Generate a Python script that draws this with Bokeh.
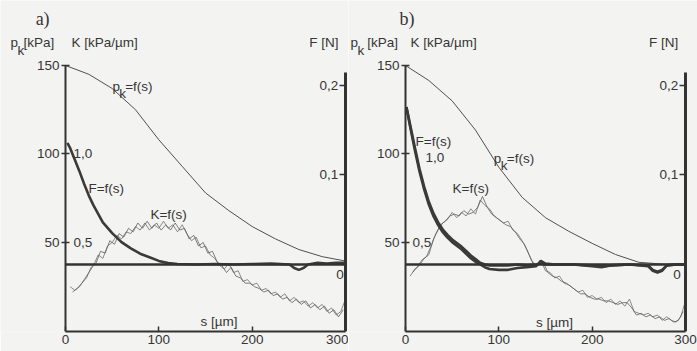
import numpy as np
from bokeh.plotting import figure
from bokeh.models import Range1d, LinearAxis, FixedTicker, Label
from bokeh.layouts import row
from bokeh.embed import file_html
from bokeh.resources import INLINE

# ---------------- data ----------------
s_ticks = [0, 100, 200, 300]
pk_ticks = [50, 100, 150]
F_ticks = [0.1, 0.2]
F_labels = {0.1: "0,1", 0.2: "0,2"}

# contact pressure p_k [kPa]
s_pk = [0, 25, 50, 75, 100, 125, 150, 175, 200, 225, 250, 275, 300]
pk_a = [150, 145, 137, 125, 108, 93, 78, 68, 59, 52, 46, 42, 39.5]
pk_b = [150, 141.5, 130, 113.5, 92.5, 75.5, 64, 56.3, 49.5, 43.2, 38.8, 37.8, 37.5]

# force F [N]
s_Fa = [2, 5, 10, 15, 20, 25, 30, 40, 50, 60, 70, 80, 90, 100, 110, 120, 140, 160, 180,
        200, 220, 240, 245, 250, 255, 260, 270, 280, 290, 300]
F_a = [0.136, 0.130, 0.117, 0.104, 0.090, 0.077, 0.066, 0.047, 0.035, 0.025, 0.018, 0.012,
       0.008, 0.004, 0.0015, 0.0005, 0.0, 0.0005, 0.0, 0.0005, 0.001, 0.0, -0.004, -0.006,
       -0.004, 0.0, 0.002, 0.001, 0.002, 0.002]
s_Fb = [1, 5, 10, 15, 20, 25, 30, 35, 40, 45, 50, 55, 60, 65, 70, 75, 80, 85, 90, 100, 110,
        120, 130, 140, 145, 150, 160, 180, 200, 210, 220, 240, 260, 265, 270, 275, 280, 290, 300]
F_b1 = [0.176, 0.156, 0.131, 0.107, 0.087, 0.070, 0.057, 0.047, 0.039, 0.033, 0.028, 0.024,
        0.020, 0.015, 0.010, 0.006, 0.002, 0.0, -0.001, -0.001, -0.001, 0.0, -0.001, 0.0,
        0.001, 0.0, 0.0, 0.0, -0.001, -0.002, -0.001, 0.0, -0.002, -0.007, -0.009, -0.007,
        -0.001, 0.0, 0.0]
F_b2 = [0.176, 0.154, 0.128, 0.104, 0.084, 0.067, 0.054, 0.044, 0.036, 0.030, 0.025, 0.021,
        0.017, 0.012, 0.007, 0.003, 0.0, -0.003, -0.005, -0.006, -0.006, -0.004, -0.003,
        -0.002, 0.004, 0.001, 0.0, 0.0, -0.002, -0.003, -0.001, 0.0, -0.001, -0.006, -0.008,
        -0.006, -0.001, 0.0, 0.0]

# stiffness K [kPa/um], two measured traces per panel
s_K1 = np.arange(5, 301, 5)
s_K2 = np.arange(7.5, 300, 5)
K_a1 = [0.25, 0.23, 0.25, 0.29, 0.33, 0.37, 0.43, 0.41, 0.48, 0.50, 0.54, 0.52, 0.56, 0.55,
        0.59, 0.57, 0.61, 0.57, 0.60, 0.58, 0.62, 0.58, 0.60, 0.56, 0.60, 0.55, 0.51, 0.53,
        0.47, 0.48, 0.43, 0.41, 0.37, 0.35, 0.38, 0.33, 0.34, 0.28, 0.29, 0.26, 0.27, 0.23,
        0.24, 0.21, 0.22, 0.19, 0.21, 0.17, 0.19, 0.16, 0.17, 0.14, 0.16, 0.13, 0.15, 0.11,
        0.13, 0.09, 0.11, 0.18]
K_a2 = [0.22, 0.24, 0.27, 0.30, 0.36, 0.38, 0.45, 0.44, 0.51, 0.49, 0.55, 0.53, 0.58, 0.56,
        0.61, 0.58, 0.62, 0.58, 0.61, 0.57, 0.60, 0.57, 0.61, 0.57, 0.58, 0.52, 0.54, 0.48,
        0.50, 0.44, 0.45, 0.39, 0.37, 0.33, 0.36, 0.31, 0.30, 0.27, 0.27, 0.25, 0.24, 0.22,
        0.23, 0.20, 0.21, 0.18, 0.19, 0.16, 0.18, 0.15, 0.17, 0.13, 0.15, 0.12, 0.14, 0.10,
        0.12, 0.08, 0.12]
K_b1 = [0.31, 0.35, 0.37, 0.41, 0.43, 0.52, 0.57, 0.61, 0.63, 0.67, 0.64, 0.67, 0.65, 0.69,
        0.66, 0.74, 0.71, 0.69, 0.65, 0.63, 0.61, 0.62, 0.57, 0.55, 0.51, 0.46, 0.40, 0.37,
        0.40, 0.34, 0.33, 0.30, 0.31, 0.27, 0.26, 0.24, 0.22, 0.23, 0.19, 0.20, 0.18, 0.19,
        0.16, 0.18, 0.15, 0.17, 0.14, 0.18, 0.11, 0.10, 0.09, 0.10, 0.08, 0.09, 0.06, 0.08,
        0.06, 0.05, 0.08, 0.17]
K_b2 = [0.33, 0.36, 0.40, 0.42, 0.48, 0.55, 0.60, 0.62, 0.65, 0.66, 0.65, 0.68, 0.66, 0.67,
        0.70, 0.76, 0.70, 0.66, 0.64, 0.62, 0.60, 0.59, 0.56, 0.52, 0.49, 0.43, 0.37, 0.38,
        0.39, 0.33, 0.31, 0.30, 0.28, 0.27, 0.25, 0.23, 0.21, 0.21, 0.19, 0.18, 0.18, 0.17,
        0.17, 0.16, 0.15, 0.16, 0.16, 0.13, 0.09, 0.10, 0.08, 0.09, 0.07, 0.08, 0.06, 0.07,
        0.05, 0.06, 0.11]

# ---------------- style ----------------
BG = "#f3f3f1"
TXT = "#363636"
AX = "#333333"
FONT = "Liberation Sans"
SERIF = "Liberation Serif"
FS = "13.5px"

# axis extents: the frame covers the whole canvas above the s axis, so that the
# header texts left of / above the plotted area sit inside it
PK_LO, PK_HI, PK_TOP = -0.3, 150, 186.7
F_LO, F_TOP, F_AX_HI = -0.0749, 0.295, 0.215
K_LO, K_TOP = -0.003, 1.867


def lab(p, x, y, text, rng="default", size=FS, font=FONT, align="left"):
    p.add_layout(Label(x=x, y=y, text=text, y_range_name=rng, text_font=font,
                       text_font_size=size, text_color=TXT, text_align=align,
                       text_baseline="middle"))


def style_axis(ax, tin, tout, lw, standoff):
    ax.minor_tick_line_color = None
    ax.major_tick_in = tin
    ax.major_tick_out = tout
    ax.axis_line_width = lw
    ax.axis_line_color = AX
    ax.major_tick_line_color = AX
    ax.major_tick_line_width = 1.5
    ax.major_label_standoff = standoff
    ax.major_label_text_font = FONT
    ax.major_label_text_font_size = FS
    ax.major_label_text_color = TXT


def panel(width, s_lo, s_hi, tag, tag_x, pk, F_sets, s_F, K1, K2, labels):
    p = figure(width=width, height=351, x_range=Range1d(s_lo, s_hi),
               y_range=Range1d(PK_LO, PK_TOP), y_axis_location=None,
               output_backend="svg", toolbar_location=None,
               min_border_left=0, min_border_right=0, min_border_top=0, min_border_bottom=20)
    p.extra_y_ranges = {"F": Range1d(F_LO, F_TOP), "K": Range1d(K_LO, K_TOP)}
    p.grid.visible = False
    p.outline_line_color = None
    p.background_fill_color = BG
    p.border_fill_color = BG

    xa = p.xaxis[0]
    xa.ticker = FixedTicker(ticks=s_ticks)
    xa.bounds = (s_ticks[0], s_ticks[-1])
    style_axis(xa, 5, 0, 2, 3)

    ya = LinearAxis(ticker=FixedTicker(ticks=pk_ticks), bounds=(PK_LO, PK_HI),
                    fixed_location=s_ticks[0])
    style_axis(ya, 4, 4, 2, 2)
    p.add_layout(ya, "left")

    fa = LinearAxis(y_range_name="F", ticker=FixedTicker(ticks=F_ticks),
                    major_label_overrides=F_labels, bounds=(F_LO, F_AX_HI),
                    fixed_location=s_ticks[-1])
    style_axis(fa, 6, 0, 3, -26)
    p.add_layout(fa, "right")

    # curves
    p.line(s_K1, K1, y_range_name="K", line_color="#707070", line_width=0.8)
    p.line(s_K2, K2, y_range_name="K", line_color="#606060", line_width=0.8)
    p.line(s_pk, pk, line_color="#505050", line_width=1)
    for Fv in F_sets:
        p.line(s_F, Fv, y_range_name="F", line_color="#3a3a3a", line_width=2.6)
    # F = 0 base line across the s span
    p.line([s_ticks[0], s_ticks[-1]], [0, 0], y_range_name="F",
           line_color=AX, line_width=2.5)

    lab(p, tag_x, 176.3, tag, size="18px", font=SERIF)
    for (x, y, t, rng, al) in labels:
        lab(p, x, y, t, rng=rng, align=al)
    return p


labels_a = [
    (-59, 163, "p", "default", "left"), (-51.5, 158.5, "k", "default", "left"),
    (-45, 163, "[kPa]", "default", "left"),
    (6.4, 163, "K [kPa/µm]", "default", "left"),
    (292.5, 163, "F [N]", "default", "right"),
    (50.4, 138, "p", "default", "left"), (57.5, 134, "k", "default", "left"),
    (64, 138, "=f(s)", "default", "left"),
    (24.6, 80.4, "F=f(s)", "default", "left"),
    (8.6, 1.0, "1,0", "K", "left"), (8.6, 0.5, "0,5", "K", "left"),
    (91, 66, "K=f(s)", "default", "left"),
    (290, -0.011, "0", "F", "left"),
    (144.6, 5.5, "s [µm]", "default", "left"),
]
labels_b = [
    (-59, 163, "p", "default", "left"), (-51.5, 158.5, "k", "default", "left"),
    (-41, 163, "[kPa]", "default", "left"),
    (5.4, 163, "K [kPa/µm]", "default", "left"),
    (292.4, 163, "F [N]", "default", "right"),
    (10.75, 107, "F=f(s)", "default", "left"),
    (21.5, 0.98, "1,0", "K", "left"),
    (94.6, 97.3, "p", "default", "left"), (102, 93.5, "k", "default", "left"),
    (108.6, 97.3, "=f(s)", "default", "left"),
    (50.5, 80.4, "K=f(s)", "default", "left"),
    (7.5, 0.5, "0,5", "K", "left"),
    (287, -0.011, "0", "F", "left"),
    (139.8, 5.0, "s [µm]", "default", "left"),
]

pa = panel(348, -69.64, 303.2, "a)", -32, pk_a, [F_a], s_Fa, K_a1, K_a2, labels_a)
pb = panel(349, -61.07, 312.9, "b)", -6.5, pk_b, [F_b1, F_b2], s_Fb, K_b1, K_b2, labels_b)

layout = row(pa, pb)
open("out.html", "w").write(file_html(layout, INLINE))
